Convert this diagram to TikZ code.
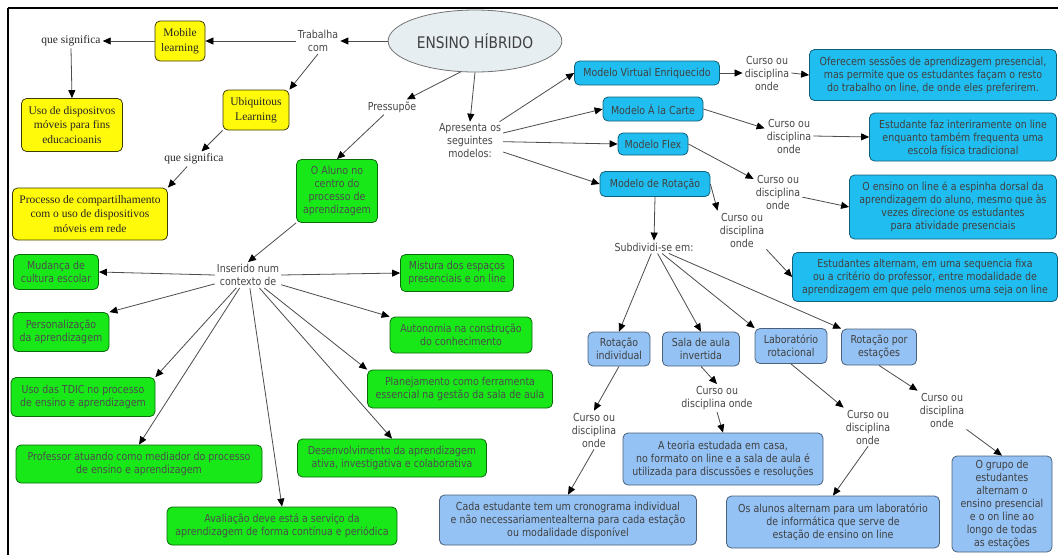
\documentclass[tikz,border=0pt]{standalone}
\usepackage{fontspec}
\setmainfont[FakeStretch=0.86]{DejaVu Sans}
\newfontfamily\serifa{Liberation Serif}
\usetikzlibrary{arrows.meta, shapes.geometric}

\definecolor{verde}{RGB}{24,232,24}
\definecolor{amarelo}{RGB}{255,250,10}
\definecolor{ciano}{RGB}{32,190,240}
\definecolor{azulclaro}{RGB}{148,194,245}
\definecolor{cinzatexto}{RGB}{70,70,70}
\definecolor{elipse}{RGB}{230,238,241}

\tikzset{
  seta/.style={draw=black!70, line width=0.8pt, -{Triangle[length=8pt, width=7pt, color=black]}},
  rotulo/.style={text=cinzatexto, align=center, inner sep=2pt, font=\fontsize{11}{13}\selectfont},
  rotuloserif/.style={text=black!85, align=center, inner sep=2pt, font=\serifa\fontsize{11.5}{14.5}\selectfont},
  caixa/.style={rounded corners=5pt, line width=0.8pt, align=center, inner sep=1pt},
  amarela/.style={caixa, draw=black!60!amarelo!60!black, fill=amarelo, text=black!85, font=\serifa\fontsize{11.5}{14.5}\selectfont},
  verdebox/.style={caixa, draw=black!55!verde, fill=verde, text=black!70, font=\fontsize{11}{13}\selectfont},
  cianobox/.style={caixa, draw=ciano!50!black, fill=ciano, text=black!75, font=\fontsize{11}{13}\selectfont},
  azulbox/.style={caixa, draw=azulclaro!50!black, fill=azulclaro, text=black!75, font=\fontsize{11}{13}\selectfont}
}

\begin{document}
\begin{tikzpicture}[x=1pt, y=-1pt]
  \useasboundingbox (0,0) rectangle (1058,555);
  \fill[white] (0,0) rectangle (1058,555);

  % Frame
  \draw[line width=1.6pt] (8,8) -- (1058,8);
  \draw[line width=2pt] (8,8) -- (8,555);

  % Central concept
  \node[ellipse, draw=black!55, fill=elipse, line width=0.8pt, minimum width=150, minimum height=62,
        text=black!75, font=\fontsize{16}{18}\selectfont] (hib) at (475,41) {ENSINO HÍBRIDO};

  % Yellow branch
  \node[rotulo] (trab) at (318,41) {Trabalha\\com};
  \node[amarela, minimum width=50, minimum height=40] (mob) at (180,41) {Mobile\\learning};
  \node[rotuloserif] (sig1) at (71,41) {que significa};
  \node[amarela, minimum width=101, minimum height=53] (usodisp) at (72,125) {Uso de dispositvos\\móveis para fins\\educacioanis};
  \node[amarela, minimum width=66, minimum height=40] (ubi) at (256,110) {Ubiquitous\\Learning};
  \node[rotuloserif] (sig2) at (194,159) {que significa};
  \node[amarela, minimum width=155, minimum height=52] (proc) at (90,214) {Processo de compartilhamento\\com o uso de dispositivos\\móveis em rede};

  \draw[seta] (hib.west) -- (trab.east);
  \draw[seta] (trab.west) -- (mob.east);
  \draw[seta] (mob.west) -- (sig1.east);
  \draw[seta] (sig1.south) -- (usodisp.north);
  \draw[seta] (trab.south) -- (ubi.north east);
  \draw[seta] (ubi.south west) -- (sig2);
  \draw[seta] (sig2) -- (proc.north east);

  % Green branch
  \node[rotulo] (press) at (392,107) {Pressupõe};
  \node[verdebox, minimum width=81, minimum height=63] (aluno) at (337,191) {O Aluno no\\centro do\\processo de\\aprendizagem};
  \node[rotulo] (ins) at (248,275) {Inserido num\\contexto de};
  \node[verdebox, minimum width=85, minimum height=35] (mud) at (56,272) {Mudança de\\cultura escolar};
  \node[verdebox, minimum width=96, minimum height=39] (pers) at (61,332) {Personalização\\da aprendizagem};
  \node[verdebox, minimum width=144, minimum height=39] (tdic) at (83,397) {Uso das TDIC no processo\\de ensino e aprendizagem};
  \node[verdebox, minimum width=246, minimum height=38] (prof) at (139,464) {Professor atuando como mediador do processo\\de ensino e aprendizagem};
  \node[verdebox, minimum width=230, minimum height=38] (aval) at (282,526) {Avaliação deve está a serviço da\\aprendizagem de forma contínua e periódica};
  \node[verdebox, minimum width=113, minimum height=37] (mist) at (457,273) {Mistura dos espaços\\presenciais e on line};
  \node[verdebox, minimum width=142, minimum height=36] (auto) at (461,335) {Autonomia na construção\\do conhecimento};
  \node[verdebox, minimum width=185, minimum height=38] (plan) at (460,389) {Planejamento como ferramenta\\essencial na gestão da sala de aula};
  \node[verdebox, minimum width=189, minimum height=38] (desen) at (392,458) {Desenvolvimento da aprendizagem\\ativa, investigativa e colaborativa};

  \draw[seta] (hib.245) -- (press);
  \draw[seta] (press) -- (aluno.north);
  \draw[seta] (aluno.south west) -- (ins.north);
  \draw[seta] (ins.west) -- (mud.east);
  \draw[seta] (ins) -- (pers.north east);
  \draw[seta] (ins) -- (tdic.north east);
  \draw[seta] (ins) -- (prof.north);
  \draw[seta] (ins) -- (aval.north);
  \draw[seta] (ins) -- (desen.north);
  \draw[seta] (ins) -- (plan.north west);
  \draw[seta] (ins) -- (auto.north west);
  \draw[seta] (ins.east) -- (mist.west);

  % Models
  \node[rotulo] (apres) at (470,141) {Apresenta os\\seguintes\\modelos:};
  \node[cianobox, minimum width=145, minimum height=24] (mve) at (647,73) {Modelo Virtual Enriquecido};
  \node[cianobox, minimum width=100, minimum height=24] (mac) at (653,109) {Modelo À la Carte};
  \node[cianobox, minimum width=70, minimum height=22] (mfl) at (653,144) {Modelo Flex};
  \node[cianobox, minimum width=110, minimum height=25] (mrot) at (655,184) {Modelo de Rotação};

  \node[rotulo] (cd1) at (767,73) {Curso ou\\disciplina\\onde};
  \node[rotulo] (cd2) at (789,136) {Curso ou\\disciplina\\onde};
  \node[rotulo] (cd3) at (778,192) {Curso ou\\disciplina\\onde};
  \node[rotulo] (cd4) at (742,230) {Curso ou\\disciplina\\onde};

  \node[cianobox, minimum width=247, minimum height=51] (desc1) at (933,75) {Oferecem sessões de aprendizagem presencial,\\mas permite que os estudantes façam o resto\\do trabalho on line, de onde eles preferirem.};
  \node[cianobox, minimum width=187, minimum height=48] (desc2) at (963,137) {Estudante faz interiramente on line\\enquanto também frequenta uma\\escola física tradicional};
  \node[cianobox, minimum width=207, minimum height=64] (desc3) at (953,207) {O ensino on line é a espinha dorsal da\\aprendizagem do aluno, mesmo que às\\vezes direcione os estudantes\\para atividade presenciais};
  \node[cianobox, minimum width=265, minimum height=49] (desc4) at (925,277) {Estudantes alternam, em uma sequencia fixa\\ou a critério do professor, entre modalidade de\\aprendizagem em que pelo menos uma seja on line};

  \draw[seta] (hib.south) -- (apres.north);
  \draw[seta] (apres) -- (mve.west);
  \draw[seta] (apres) -- (mac.west);
  \draw[seta] (apres) -- (mfl.west);
  \draw[seta] (apres) -- (mrot.west);
  \draw[seta] (mve.east) -- (cd1.west);
  \draw[seta] (cd1.east) -- (desc1.west);
  \draw[seta] (mac.east) -- (cd2);
  \draw[seta] (cd2.east) -- (desc2.west);
  \draw[seta] (mfl.east) -- (cd3);
  \draw[seta] (cd3) -- (desc3.west);
  \draw[seta] (mrot.east) -- (cd4.north west);
  \draw[seta] (cd4.south east) -- (desc4.west);

  % Rotation sub-models
  \node[rotulo] (sub) at (654,247) {Subdividi-se em:};
  \node[azulbox, minimum width=62, minimum height=34] (rind) at (619,349) {Rotação\\individual};
  \node[azulbox, minimum width=77, minimum height=34] (sala) at (701,349) {Sala de aula\\invertida};
  \node[azulbox, minimum width=72, minimum height=35] (lab) at (791,346) {Laboratório\\rotacional};
  \node[azulbox, minimum width=75, minimum height=36] (rest) at (879,347) {Rotação por\\estações};

  \node[rotulo] (cd5) at (594,430) {Curso ou\\disciplina\\onde};
  \node[rotulo] (cd6) at (717,398) {Curso ou\\disciplina onde};
  \node[rotulo] (cd7) at (868,427) {Curso ou\\disciplina\\onde};
  \node[rotulo] (cd8) at (942,410) {Curso ou\\disciplina\\onde};

  \node[azulbox, minimum width=257, minimum height=50] (desc5) at (568,520) {Cada estudante tem um cronograma individual\\e não necessariamentealterna para cada estação\\ou modalidade disponível};
  \node[azulbox, minimum width=200, minimum height=52] (desc6) at (723,459) {A teoria estudada em casa,\\no formato on line e a sala de aula é\\utilizada para discussões e resoluções};
  \node[azulbox, minimum width=213, minimum height=52] (desc7) at (833,522) {Os alunos alternam para um laboratório\\de informática que serve de\\estação de ensino on line};
  \node[azulbox, minimum width=100, minimum height=96] (desc8) at (1002,504) {O grupo de\\estudantes\\alternam o\\ensino presencial\\e o on line ao\\longo de todas\\as estações};

  \draw[seta] (mrot.south) -- (sub.north);
  \draw[seta] (sub) -- (rind.north);
  \draw[seta] (sub) -- (sala.north);
  \draw[seta] (sub) -- (lab.north west);
  \draw[seta] (sub) -- (rest.north west);
  \draw[seta] (rind.south) -- (cd5.north);
  \draw[seta] (cd5.south) -- (desc5.north);
  \draw[seta] (sala.south) -- (cd6.north);
  \draw[seta] (cd6.south) -- (desc6.north);
  \draw[seta] (lab.south) -- (cd7.north west);
  \draw[seta] (cd7.south) -- (desc7.north);
  \draw[seta] (rest.south) -- (cd8.north west);
  \draw[seta] (cd8.south east) -- (desc8.north);
\end{tikzpicture}
\end{document}
